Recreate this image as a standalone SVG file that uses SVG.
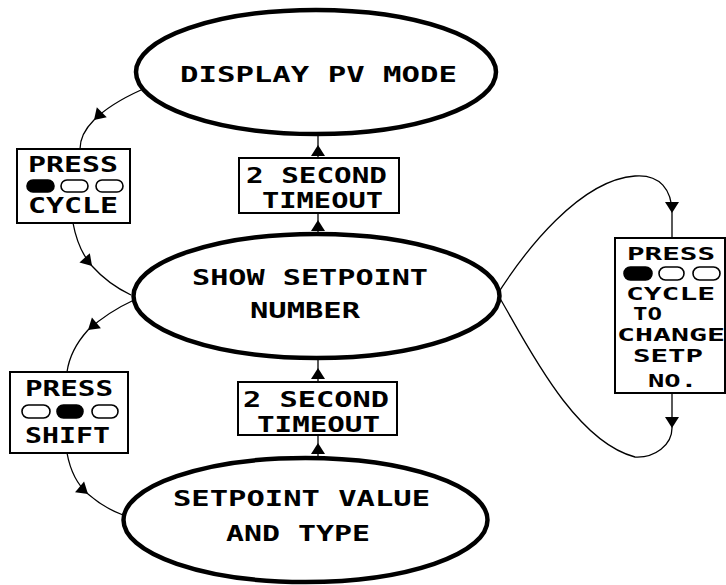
<svg xmlns="http://www.w3.org/2000/svg" width="726" height="585" viewBox="0 0 726 585">
<defs>
<style>
.st{fill:#fff;stroke:#000;stroke-width:4.5}
.bx{fill:#fff;stroke:#000;stroke-width:2}
.t{font-family:"DejaVu Sans Mono","Liberation Mono",monospace;font-weight:bold;font-size:20.5px;fill:#000}
.s{font-size:17px}
.c{fill:none;stroke:#000;stroke-width:1.3}
.ov{fill:#fff;stroke:#000;stroke-width:1.6}
.ovf{fill:#000;stroke:#000;stroke-width:1.6}
</style>
<path id="ah" d="M0,0 L-11,-7 L-11,7 Z" fill="#000"/>
</defs>
<rect width="726" height="585" fill="#fff"/>

<g id="connectors">
<path class="c" d="M141,90 Q110,104 94,120 Q80,134 80,149"/>
<use href="#ah" transform="translate(94,120) rotate(135)"/>
<path class="c" d="M73,223 Q78,250 92,266 Q108,284 131,295"/>
<use href="#ah" transform="translate(92,266) rotate(48)"/>
<path class="c" d="M134,300 Q108,312 88,330 Q70,350 67,372"/>
<use href="#ah" transform="translate(88,330) rotate(140)"/>
<path class="c" d="M67,453 Q72,480 88,494 Q104,508 123,515"/>
<use href="#ah" transform="translate(88,494) rotate(40)"/>
<path class="c" d="M318,134 L318,158"/>
<use href="#ah" transform="translate(318,145) rotate(-90)"/>
<path class="c" d="M318,213 L318,234"/>
<use href="#ah" transform="translate(318,220) rotate(-90)"/>
<path class="c" d="M318,358 L318,382"/>
<use href="#ah" transform="translate(318,368) rotate(-90)"/>
<path class="c" d="M318,435 L318,458"/>
<use href="#ah" transform="translate(318,443) rotate(-90)"/>
<path class="c" d="M495,298 C525,250 580,180 635,176 C660,174 672,190 672,213 L672,238"/>
<use href="#ah" transform="translate(672,213) rotate(90)"/>
<path class="c" d="M672,393 L672,428 C672,445 655,458 635,457 C570,440 520,330 495,290"/>
<use href="#ah" transform="translate(672,428) rotate(90)"/>
</g>

<g id="display-pv-mode">
<ellipse class="st" cx="316" cy="72" rx="180" ry="62"/>
<text class="t" x="180" y="82" textLength="277" lengthAdjust="spacingAndGlyphs">DISPLAY PV MODE</text>
</g>

<g id="show-setpoint-number">
<ellipse class="st" cx="316.5" cy="296" rx="183" ry="62"/>
<text class="t" x="192" y="285" textLength="236" lengthAdjust="spacingAndGlyphs">SHOW SETPOINT</text>
<text class="t" x="250" y="318" textLength="110" lengthAdjust="spacingAndGlyphs">NUMBER</text>
</g>

<g id="setpoint-value-type">
<ellipse class="st" cx="305.5" cy="520" rx="182" ry="62"/>
<text class="t" x="173" y="506" textLength="257" lengthAdjust="spacingAndGlyphs">SETPOINT VALUE</text>
<text class="t" x="226" y="541" textLength="144" lengthAdjust="spacingAndGlyphs">AND TYPE</text>
</g>

<g id="timeout-upper">
<rect class="bx" x="239" y="158" width="160" height="55"/>
<text class="t" x="246" y="183" textLength="141" lengthAdjust="spacingAndGlyphs">2 SECOND</text>
<text class="t" x="262" y="208" textLength="121" lengthAdjust="spacingAndGlyphs">TIMEOUT</text>
</g>

<g id="timeout-lower">
<rect class="bx" x="238" y="382" width="159" height="53"/>
<text class="t" x="243" y="407" textLength="146" lengthAdjust="spacingAndGlyphs">2 SECOND</text>
<text class="t" x="257" y="432" textLength="123" lengthAdjust="spacingAndGlyphs">TIMEOUT</text>
</g>

<g id="press-cycle">
<rect class="bx" x="17" y="149" width="113" height="74"/>
<text class="t" x="28" y="172" textLength="90" lengthAdjust="spacingAndGlyphs">PRESS</text>
<rect class="ovf" x="27" y="180" width="27" height="12" rx="6"/>
<rect class="ov" x="61" y="180" width="27" height="12" rx="6"/>
<rect class="ov" x="96" y="180" width="27" height="12" rx="6"/>
<text class="t" x="28" y="213" textLength="90" lengthAdjust="spacingAndGlyphs">CYCLE</text>
</g>

<g id="press-shift">
<rect class="bx" x="10" y="372" width="118" height="81"/>
<text class="t" x="25" y="396" textLength="88" lengthAdjust="spacingAndGlyphs">PRESS</text>
<rect class="ov" x="22" y="405" width="28" height="13" rx="6.5"/>
<rect class="ovf" x="57" y="405" width="26" height="13" rx="6.5"/>
<rect class="ov" x="92" y="405" width="26" height="13" rx="6.5"/>
<text class="t" x="25" y="443" textLength="85" lengthAdjust="spacingAndGlyphs">SHIFT</text>
</g>

<g id="press-cycle-change">
<rect class="bx" x="615" y="238" width="110" height="155"/>
<text class="t s" x="627" y="260" textLength="88" lengthAdjust="spacingAndGlyphs">PRESS</text>
<rect class="ovf" x="624" y="267" width="28" height="13" rx="6.5"/>
<rect class="ov" x="659" y="267" width="25" height="13" rx="6.5"/>
<rect class="ov" x="693" y="267" width="27" height="13" rx="6.5"/>
<text class="t s" x="626" y="300" textLength="89" lengthAdjust="spacingAndGlyphs">CYCLE</text>
<text class="t s" x="633" y="320" textLength="29" lengthAdjust="spacingAndGlyphs">TO</text>
<text class="t s" x="617" y="341" textLength="108" lengthAdjust="spacingAndGlyphs">CHANGE</text>
<text class="t s" x="633" y="362" textLength="70" lengthAdjust="spacingAndGlyphs">SETP</text>
<text class="t s" x="648" y="387" textLength="49" lengthAdjust="spacingAndGlyphs">NO.</text>
</g>
</svg>
